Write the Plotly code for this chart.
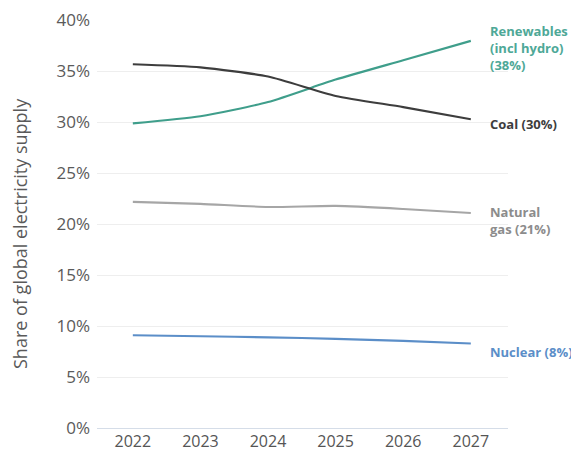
import plotly.graph_objects as go

years = [2022, 2023, 2024, 2025, 2026, 2027]
renewables = [29.9, 30.6, 32.0, 34.2, 36.1, 38.0]
coal = [35.7, 35.4, 34.5, 32.6, 31.5, 30.3]
gas = [22.2, 22.0, 21.7, 21.8, 21.5, 21.1]
nuclear = [9.1, 9.0, 8.9, 8.75, 8.55, 8.3]
y_ticks = [0, 5, 10, 15, 20, 25, 30, 35, 40]
y_ticktext = ["0%", "5%", "10%", "15%", "20%", "25%", "30%", "35%", "40%"]

series = [
    ("Renewables<br>(incl hydro)<br>(38%)", renewables, "#3f9e8b", "#4ea897", 37.3),
    ("Coal (30%)", coal, "#3d3d3d", "#3d3d3d", 29.8),
    ("Natural<br>gas (21%)", gas, "#a6a6a6", "#8c8c8c", 20.4),
    ("Nuclear (8%)", nuclear, "#5b8ec8", "#5b8ec8", 7.5),
]

font = "'Open Sans', sans-serif"
fig = go.Figure()
annotations = []
for name, vals, col, tcol, ly in series:
    fig.add_trace(go.Scatter(x=years, y=vals, mode="lines",
                             line=dict(color=col, width=2.1, shape="spline", smoothing=0.6),
                             name=name, showlegend=False))
    annotations.append(dict(x=2027, y=ly, xref="x", yref="y", text="<b>" + name + "</b>",
                            showarrow=False, xanchor="left", yanchor="middle", align="left",
                            xshift=17, font=dict(family=font, size=13, color=tcol)))

annotations.append(dict(x=0, y=0.5, xref="paper", yref="paper", xshift=-77, yshift=-10,
                        text="Share of global electricity supply", textangle=-90,
                        showarrow=False, xanchor="center", yanchor="middle",
                        font=dict(family=font, size=18, color="#5a5a5a")))

fig.update_layout(
    width=579, height=454,
    margin=dict(l=89, r=79, t=12, b=34),
    plot_bgcolor="white", paper_bgcolor="white",
    annotations=annotations,
    font=dict(family=font, color="#555555"),
    xaxis=dict(range=[2021.47, 2027.55], tickmode="array", tickvals=years, automargin=False,
               ticktext=[str(y) for y in years], showgrid=False, zeroline=False,
               showline=False, tickfont=dict(size=16, color="#555555"), ticks="",
               ticklabelstandoff=2, ticklabeloverflow="allow"),
    yaxis=dict(range=[0, 40.05], tickmode="array", tickvals=y_ticks, ticktext=y_ticktext,
               showgrid=True, gridcolor="#eeeeee",
               gridwidth=1, zeroline=True, zerolinecolor="#d5dde8", zerolinewidth=1,
               automargin=False, ticklabelstandoff=6, ticklabeloverflow="allow",
               tickfont=dict(size=17, color="#5a5a5a"), ticks=""),
)
fig.write_html("out.html")
